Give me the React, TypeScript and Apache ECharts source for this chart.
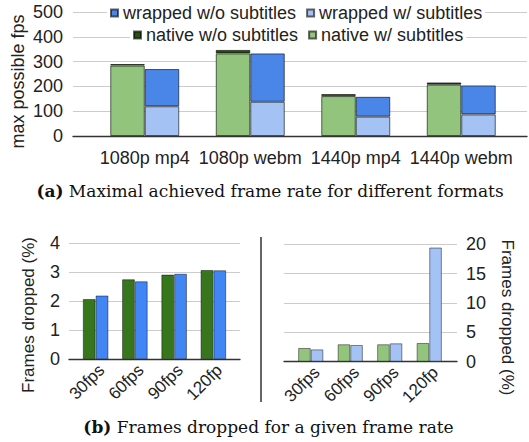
import React, { useEffect, useRef } from "react";
import * as echarts from "echarts";

const formats = ["1080p mp4", "1080p webm", "1440p mp4", "1440p webm"];
const nativeWithSubs = [284, 333, 161, 207];
const nativeWithoutSubs = [290, 347, 169, 216];
const wrappedWithSubs = [120, 138, 78, 87];
const wrappedWithoutSubs = [270, 333, 158, 204];

const rates = ["30fps", "60fps", "90fps", "120fp"];
const dropNativeNoSubs = [2.08, 2.76, 2.92, 3.08];
const dropWrappedNoSubs = [2.2, 2.69, 2.95, 3.07];
const dropNativeSubs = [2.34, 2.97, 2.97, 3.19];
const dropWrappedSubs = [2.1, 2.85, 3.13, 19.45];

const SANS = "Liberation Sans, Arial, sans-serif";
const SERIF = "DejaVu Serif, serif";
const TXT = "#222";

export default function App() {
  const ref = useRef<HTMLDivElement>(null);
  useEffect(() => {
    document.body.style.margin = "0";
    const chart = echarts.init(ref.current!, null, { renderer: "svg" });
    const hiddenX = (gi: number) => ({
      gridIndex: gi,
      type: "value",
      min: 0,
      max: 1,
      axisLine: { show: true, lineStyle: { color: "#333", width: 1.3 } },
      axisTick: { show: false },
      axisLabel: { show: false },
      splitLine: { show: false },
    });
    const catX = (gi: number, data: string[], extra: any) => ({
      gridIndex: gi,
      type: "category",
      data,
      axisLine: { show: false },
      axisTick: { show: false },
      ...extra,
    });
    const gridY = (gi: number, max: number, interval: number, pos: string, fontSize: number) => ({
      gridIndex: gi,
      type: "value",
      min: 0,
      max,
      interval,
      position: pos,
      axisLine: { show: false },
      axisTick: { show: false },
      axisLabel: { fontSize, color: TXT, fontFamily: SANS, margin: 9 },
      splitLine: { lineStyle: { color: "#ccc", width: 1 } },
    });
    const hiddenY = (gi: number, max: number) => ({
      gridIndex: gi,
      type: "value",
      min: 0,
      max,
      show: false,
    });
    const border = { borderColor: "rgba(0,0,0,0.6)", borderWidth: 1 };
    const border2 = { borderColor: "rgba(0,0,0,0.45)", borderWidth: 1 };
    const legendBase = {
      orient: "horizontal",
      icon: "rect",
      itemWidth: 7,
      itemHeight: 7,
      itemGap: 10,
      backgroundColor: "#fff",
      padding: [1, 3],
      selectedMode: false,
      textStyle: { fontSize: 18, color: TXT, fontFamily: SANS },
    };
    const botLabel = {
      fontSize: 17,
      color: TXT,
      fontFamily: SANS,
      rotate: 45,
      align: "right",
      verticalAlign: "top",
      margin: 2,
      interval: 0,
    };
    const option: any = {
      animation: false,
      backgroundColor: "#fff",
      grid: [
        { left: 73, top: 12, width: 454, height: 124 },
        { left: 92, top: 12, width: 422, height: 124 },
        { left: 69, top: 243.3, width: 171, height: 116 },
        { left: 76, top: 243.3, width: 157, height: 116 },
        { left: 284, top: 244.3, width: 173, height: 117.4 },
        { left: 291, top: 244.3, width: 158, height: 117.4 },
      ],
      legend: [
        { ...legendBase, left: 107, top: 3, data: ["wrapped w/o subtitles", "wrapped w/ subtitles"] },
        { ...legendBase, left: 130, top: 25, data: ["native w/o subtitles", "native w/ subtitles"] },
      ],
      xAxis: [
        hiddenX(0),
        catX(1, formats, {
          axisLabel: { fontSize: 18, color: TXT, fontFamily: SANS, margin: 13, interval: 0 },
        }),
        hiddenX(2),
        catX(3, rates, { axisLabel: botLabel }),
        hiddenX(4),
        catX(5, rates, { axisLabel: botLabel }),
      ],
      yAxis: [
        { ...gridY(0, 500, 100, "left", 18), axisLabel: { fontSize: 18, color: TXT, fontFamily: SANS, margin: 10 } },
        hiddenY(1, 500),
        gridY(2, 4, 1, "left", 18),
        hiddenY(3, 4),
        gridY(4, 20, 5, "right", 18),
        hiddenY(5, 20),
      ],
      series: [
        {
          name: "native w/ subtitles",
          type: "bar",
          xAxisIndex: 1,
          yAxisIndex: 1,
          stack: "native",
          barWidth: 34.5,
          barGap: "0%",
          data: nativeWithSubs,
          itemStyle: { color: "#93c47d", ...border },
        },
        {
          name: "native w/o subtitles",
          type: "bar",
          xAxisIndex: 1,
          yAxisIndex: 1,
          stack: "native",
          barWidth: 34.5,
          barGap: "0%",
          data: nativeWithoutSubs.map((v, i) => v - nativeWithSubs[i]),
          itemStyle: { color: "#274e13", ...border },
        },
        {
          name: "wrapped w/ subtitles",
          type: "bar",
          xAxisIndex: 1,
          yAxisIndex: 1,
          stack: "wrapped",
          barWidth: 34.5,
          barGap: "0%",
          data: wrappedWithSubs,
          itemStyle: { color: "#a4c2f4", ...border },
        },
        {
          name: "wrapped w/o subtitles",
          type: "bar",
          xAxisIndex: 1,
          yAxisIndex: 1,
          stack: "wrapped",
          barWidth: 34.5,
          barGap: "0%",
          data: wrappedWithoutSubs.map((v, i) => v - wrappedWithSubs[i]),
          itemStyle: { color: "#4a86e8", ...border },
        },
        {
          name: "drop native",
          type: "bar",
          xAxisIndex: 3,
          yAxisIndex: 3,
          barWidth: 12.8,
          barGap: "0%",
          data: dropNativeNoSubs,
          itemStyle: { color: "#38761d", ...border2 },
        },
        {
          name: "drop wrapped",
          type: "bar",
          xAxisIndex: 3,
          yAxisIndex: 3,
          barWidth: 12.8,
          barGap: "0%",
          data: dropWrappedNoSubs,
          itemStyle: { color: "#4285f4", ...border2 },
        },
        {
          name: "drop native subs",
          type: "bar",
          xAxisIndex: 5,
          yAxisIndex: 5,
          barWidth: 12.6,
          barGap: "0%",
          data: dropNativeSubs,
          itemStyle: { color: "#93c47d", ...border2 },
        },
        {
          name: "drop wrapped subs",
          type: "bar",
          xAxisIndex: 5,
          yAxisIndex: 5,
          barWidth: 12.6,
          barGap: "0%",
          data: dropWrappedSubs,
          itemStyle: { color: "#a4c2f4", ...border2 },
        },
      ],
      graphic: [
        {
          type: "text",
          x: 18,
          y: 81.5,
          rotation: Math.PI / 2,
          style: {
            text: "max possible fps",
            fontSize: 18,
            fontFamily: SANS,
            fill: TXT,
            align: "center",
            verticalAlign: "middle",
            textAlign: "center",
            textVerticalAlign: "middle",
          },
        },
        {
          type: "text",
          x: 28,
          y: 315,
          rotation: Math.PI / 2,
          style: {
            text: "Frames dropped (%)",
            fontSize: 17,
            fontFamily: SANS,
            fill: TXT,
            align: "center",
            verticalAlign: "middle",
            textAlign: "center",
            textVerticalAlign: "middle",
          },
        },
        {
          type: "text",
          x: 507,
          y: 317.5,
          rotation: -Math.PI / 2,
          style: {
            text: "Frames dropped (%)",
            fontSize: 17,
            fontFamily: SANS,
            fill: TXT,
            align: "center",
            verticalAlign: "middle",
            textAlign: "center",
            textVerticalAlign: "middle",
          },
        },
        {
          type: "line",
          shape: { x1: 261, y1: 237, x2: 261, y2: 402 },
          style: { stroke: "#333", lineWidth: 1.5 },
        },
        {
          type: "text",
          x: 270,
          y: 191,
          style: {
            text: "{b|(a)} Maximal achieved frame rate for different formats",
            rich: { b: { fontWeight: "bold", fontFamily: SERIF, fontSize: 17, fill: "#111" } },
            fontSize: 17,
            fontFamily: SERIF,
            fill: "#111",
            align: "center",
            verticalAlign: "middle",
            textAlign: "center",
            textVerticalAlign: "middle",
          },
        },
        {
          type: "text",
          x: 268.5,
          y: 427,
          style: {
            text: "{b|(b)} Frames dropped for a given frame rate",
            rich: { b: { fontWeight: "bold", fontFamily: SERIF, fontSize: 17, fill: "#111" } },
            fontSize: 17,
            fontFamily: SERIF,
            fill: "#111",
            align: "center",
            verticalAlign: "middle",
            textAlign: "center",
            textVerticalAlign: "middle",
          },
        },
      ],
    };
    chart.setOption(option);
    return () => chart.dispose();
  }, []);
  return (
    <div
      ref={ref}
      style={{ position: "absolute", left: 0, top: 0, width: 529, height: 442 }}
    />
  );
}
